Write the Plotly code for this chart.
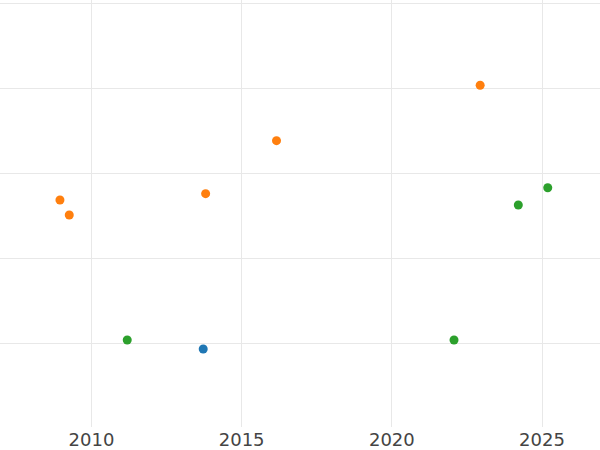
import plotly.graph_objects as go

# Data
orange_x = [2008.95, 2009.26, 2013.80, 2016.16, 2022.94]
orange_y = [1.687, 1.510, 1.762, 2.387, 3.041]

green_x = [2011.19, 2022.07, 2024.21, 2025.19]
green_y = [0.035, 0.035, 1.628, 1.832]

blue_x = [2013.72]
blue_y = [-0.071]

x_ticks = [2010, 2015, 2020, 2025]
y_ticks = [0, 1, 2, 3, 4]

fig = go.Figure()
fig.add_trace(go.Scatter(x=blue_x, y=blue_y, mode="markers", name="A",
                         marker=dict(color="#1f77b4", size=9)))
fig.add_trace(go.Scatter(x=orange_x, y=orange_y, mode="markers", name="B",
                         marker=dict(color="#ff7f0e", size=9)))
fig.add_trace(go.Scatter(x=green_x, y=green_y, mode="markers", name="C",
                         marker=dict(color="#2ca02c", size=9)))

fig.update_layout(
    width=600, height=450,
    margin=dict(l=0, r=0, t=0, b=23, pad=0),
    paper_bgcolor="white", plot_bgcolor="white",
    showlegend=False,
    font=dict(family="DejaVu Sans", size=18, color="#444444"),
)
fig.update_xaxes(range=[2006.954, 2026.93], tickvals=x_ticks,
                 ticktext=[str(t) for t in x_ticks],
                 showgrid=True, gridcolor="#e8e8e8", gridwidth=1,
                 zeroline=False, showline=False, automargin=False)
fig.update_yaxes(range=[-0.991, 4.047], tickvals=y_ticks,
                 showticklabels=False,
                 showgrid=True, gridcolor="#e8e8e8", gridwidth=1,
                 zeroline=False, showline=False, automargin=False)

fig.write_html("out.html",
               config={"displayModeBar": False},
               post_script="document.body.style.margin='0';document.body.style.overflow='hidden';")
